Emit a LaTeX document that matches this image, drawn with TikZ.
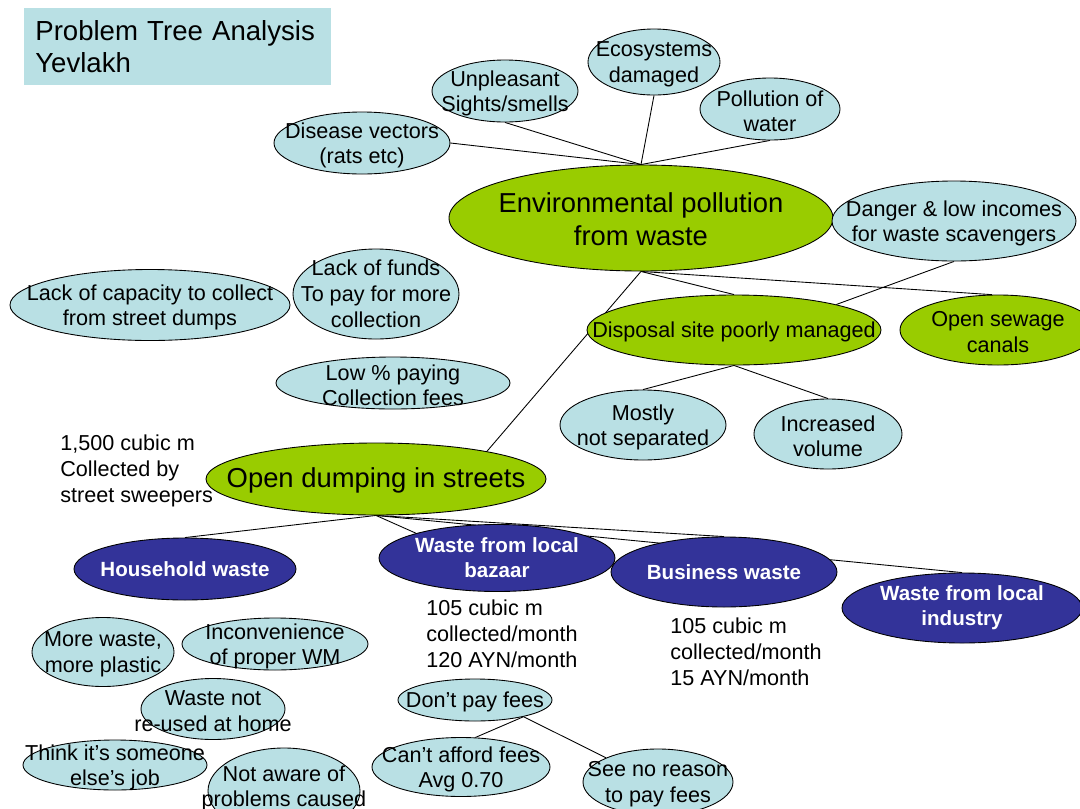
\documentclass[tikz,border=0pt]{standalone}
\usepackage{fontspec}
\setmainfont{Liberation Sans}
\usetikzlibrary{shapes.geometric,backgrounds}
\definecolor{bleuclair}{HTML}{B9E0E4}
\definecolor{vert}{HTML}{99CC00}
\definecolor{bleufonce}{HTML}{333399}
\begin{document}
\begin{tikzpicture}[x=0.02cm,y=-0.02cm]
	% Styles
	\tikzstyle{fleche}=[-,line width=0.5pt]
	\tikzstyle{bulle}=[ellipse,draw=black,line width=0.5pt,fill=bleuclair,inner sep=0pt]
	\tikzstyle{probleme}=[bulle,fill=vert]
	\tikzstyle{source}=[bulle,fill=bleufonce]
	\tikzstyle{etiquette}=[inner sep=0pt,align=center]
	\tikzstyle{texte}=[etiquette,yshift=-0.045cm,font=\fontsize{12.3}{14.6}\selectfont]
	\tikzstyle{grand}=[etiquette,yshift=-0.02cm,font=\fontsize{15.6}{18.8}\selectfont]
	\tikzstyle{gras}=[etiquette,text=white,font=\fontsize{11.7}{14.2}\selectfont\bfseries]
	\tikzstyle{commentaire}=[inner sep=0pt,align=left,anchor=west,font=\fontsize{12.3}{14.8}\selectfont]
	\tikzset{taille/.style 2 args={minimum width=#1*0.02cm,minimum height=#2*0.02cm}}
	\useasboundingbox (0,0) rectangle (1080,809);
	% Titre
	\node[fill=bleuclair,anchor=north west,taille={307}{77},text width=285*0.02cm,inner xsep=11*0.02cm,align=left,font=\fontsize{15.7}{18.2}\selectfont] (titre) at (24,8) {Problem Tree Analysis\\Yevlakh};
	% Effets
	\node[bulle,taille={176}{62},label={[texte]center:{Disease vectors\\(rats etc)}}] (dis) at (362,143) {};
	\node[bulle,taille={146}{62},label={[texte]center:{Unpleasant\\Sights/smells}}] (unp) at (505,91) {};
	\node[bulle,taille={132}{66},label={[texte]center:{Ecosystems\\damaged}}] (eco) at (654,62) {};
	\node[bulle,taille={140}{62},label={[texte]center:{Pollution of\\water}}] (pol) at (770,109) {};
	\node[probleme,taille={384}{106},label={[grand]center:{Environmental pollution\\from waste}}] (env) at (641,218) {};
	\node[bulle,taille={244}{80},label={[texte]center:{Danger \& low incomes\\for waste scavengers}}] (dan) at (954,221) {};
	% Causes
	\node[bulle,taille={280}{71},label={[texte]center:{Lack of capacity to collect\\from street dumps}}] (cap) at (150,305) {};
	\node[bulle,taille={166}{90},label={[texte,yshift=0.05cm]center:{Lack of funds\\To pay for more\\collection}}] (fon) at (376,294) {};
	\node[bulle,taille={234}{52},label={[texte]center:{Low \% paying\\Collection fees}}] (bas) at (393,383) {};
	\node[probleme,taille={294}{70},label={[texte]center:{Disposal site poorly managed}}] (disp) at (734,330) {};
	\node[probleme,taille={196}{70},label={[texte]center:{Open sewage\\canals}}] (egout) at (998,330) {};
	\node[bulle,taille={166}{70},label={[texte]center:{Mostly\\not separated}}] (mos) at (643,425) {};
	\node[bulle,taille={148}{70},label={[texte]center:{Increased\\volume}}] (vol) at (828,434) {};
	\node[probleme,taille={340}{72},label={[grand]center:{Open dumping in streets}}] (dump) at (376,479) {};
	% Sources
	\node[source,taille={222}{62},label={[gras]center:{Household waste}}] (men) at (185,569) {};
	\node[source,taille={236}{67},label={[gras]center:{Waste from local\\bazaar}}] (baz) at (497,558) {};
	\node[source,taille={226}{70},label={[gras]center:{Business waste}}] (bus) at (724,572) {};
	\node[source,taille={240}{70},label={[gras]center:{Waste from local\\industry}}] (ind) at (962,608) {};
	% Menages
	\node[bulle,taille={142}{69},label={[texte]center:{More waste,\\more plastic}}] (plas) at (103,652) {};
	\node[bulle,taille={186}{52},label={[texte]center:{Inconvenience\\of proper WM}}] (inco) at (275,644) {};
	\node[bulle,taille={144}{61},label={[texte]center:{Waste not\\re-used at home}}] (reut) at (213,709) {};
	\node[bulle,taille={184}{50},label={[texte]center:{Think it’s someone\\else’s job}}] (autre) at (115,765) {};
	\node[bulle,taille={152}{86},label={[texte,yshift=0.1cm]center:{Not aware of\\problems caused}}] (inf) at (284,791) {};
	% Bazar
	\node[bulle,taille={154}{42},label={[texte]center:{Don’t pay fees}}] (pay) at (475,700) {};
	\node[bulle,taille={178}{59},label={[texte]center:{Can’t afford fees\\Avg 0.70}}] (afford) at (461,767) {};
	\node[bulle,taille={150}{66},label={[texte]center:{See no reason\\to pay fees}}] (raison) at (658,782) {};
	% Commentaires
	\node[commentaire] (c1) at (60,471) {1,500 cubic m\\Collected by\\street sweepers};
	\node[commentaire] (c2) at (426,634) {105 cubic m\\collected/month\\120 AYN/month};
	\node[commentaire] (c3) at (670,652) {105 cubic m\\collected/month\\15 AYN/month};
	% Arcs
	\begin{scope}[on background layer]
		\draw[fleche] (env.north)--(dis.east);
		\draw[fleche] (env.north)--(unp.south);
		\draw[fleche] (env.north)--(eco.south);
		\draw[fleche] (env.north)--(pol.south);
		\draw[fleche] (env.south)--(disp.north);
		\draw[fleche] (env.south)--(egout.100);
		\draw[fleche] (env.south)--(dump.14);
		\draw[fleche] (dan.south)--(disp.14);
		\draw[fleche] (disp.south)--(mos.north);
		\draw[fleche] (disp.south)--(vol.north);
		\draw[fleche] (dump.south)--(men.north);
		\draw[fleche] (dump.south)--(baz.163);
		\draw[fleche] (dump.south)--(bus.north);
		\draw[fleche] (dump.south)--(ind.north);
		\draw[fleche] (pay.-19)--(afford.64);
		\draw[fleche] (pay.-19)--(raison.155);
	\end{scope}
\end{tikzpicture}
\end{document}
